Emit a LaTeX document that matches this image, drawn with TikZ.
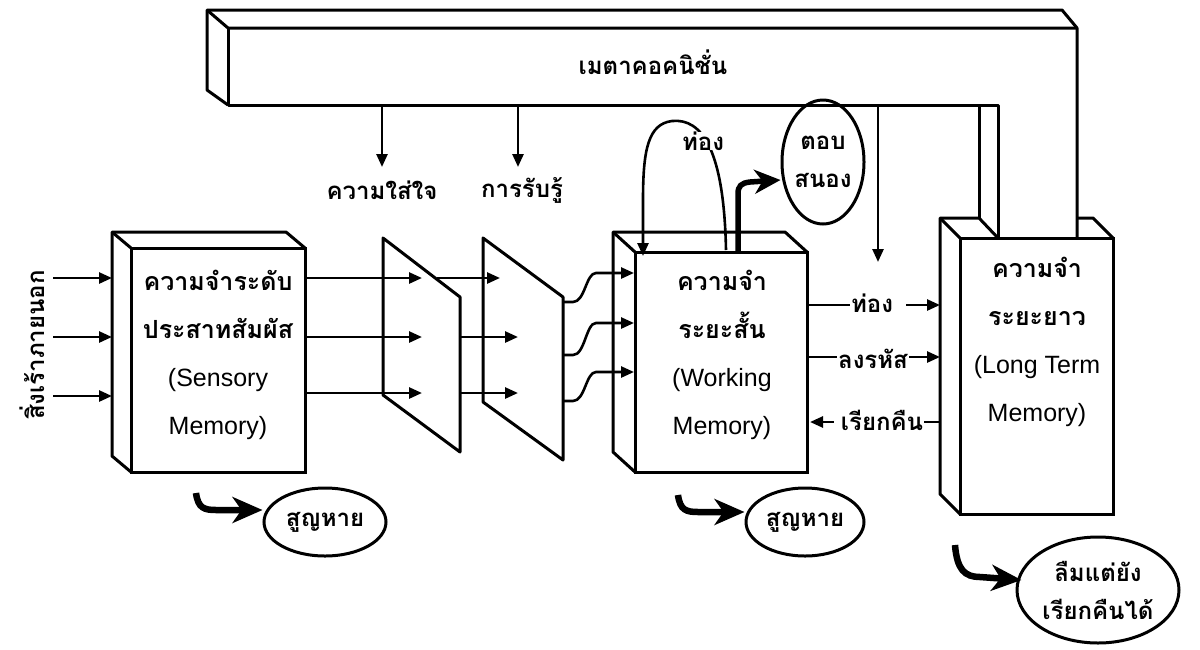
\documentclass[tikz,border=0pt]{standalone}
\usepackage{fontspec}
\setmainfont{Liberation Sans}
\newfontfamily\thai[Script=Thai]{Loma}
\usetikzlibrary{arrows.meta,calc,shapes.geometric}
\begin{document}
\begin{tikzpicture}[x=1pt,y=-1pt,
  wall/.style={line width=3pt, line join=round},
  arr/.style={line width=2.6pt,-{Triangle[length=13pt,width=11pt]}},
  plain/.style={line width=2.6pt},
  bigarr/.style={line width=6.5pt,-{Stealth[length=30pt,width=26pt,inset=9pt]}},
  face/.style={draw, line width=3pt, outer sep=0pt, inner sep=0pt},
  thaitx/.style={font=\thai\bfseries\fontsize{24}{26}\selectfont, inner sep=1pt},
  memtx/.style={align=center, font=\fontsize{25}{48}\selectfont, inner sep=0pt},
  oval/.style={draw, ellipse, line width=3pt, inner sep=0pt, align=center,
               font=\thai\bfseries\fontsize{24}{38}\selectfont},
]
\useasboundingbox (0,0) rectangle (1200,649);

% ---------- metacognition bar ----------
\coordinate (mbA) at (207,10);  \coordinate (mbB) at (1062,10);
\coordinate (mbC) at (1077,28); \coordinate (mbD) at (228,28);
\coordinate (mbE) at (207,90);  \coordinate (mbF) at (228,105);
\coordinate (mbG) at (998,105); \coordinate (mbH) at (979,105);
\coordinate (mbI) at (1077,238);\coordinate (mbJ) at (979,218);
\coordinate (mbK) at (998,238);
\draw[wall] (mbF) -- (mbE) -- (mbA) -- (mbB) -- (mbC) -- (mbI);
\draw[wall] (mbA) -- (mbD) -- (mbC);
\draw[wall] (mbD) -- (mbF) -- (mbG) -- (mbK);
\draw[wall] (mbH) -- (mbJ);
\node[thaitx] (meta) at (653,62) {เมตาคอคนิชั่น};

% ---------- sensory memory ----------
\node[face, minimum width=174pt, minimum height=224pt] (sm) at (218,360) {};
\draw[wall] (sm.south west) -- ++(-19,-16) -- ($(sm.north west)+(-19,-16)$)
            -- ($(sm.north east)+(-19,-16)$) -- (sm.north east);
\draw[wall] (sm.north west) -- ++(-19,-16);
\node[memtx] (smt) at (218,355) {{\thai\bfseries ความจำระดับ}\\{\thai\bfseries ประสาทสัมผัส}\\(Sensory\\Memory)};

% ---------- working memory ----------
\node[face, minimum width=172pt, minimum height=220pt] (wm) at (721,362) {};
\draw[wall] (wm.south west) -- ++(-22,-20) -- ($(wm.north west)+(-22,-20)$)
            -- ($(wm.north east)+(-22,-20)$) -- (wm.north east);
\draw[wall] (wm.north west) -- ++(-22,-20);
\node[memtx] (wmt) at (722,355) {{\thai\bfseries ความจำ}\\{\thai\bfseries ระยะสั้น}\\(Working\\Memory)};

% ---------- long term memory ----------
\node[face, minimum width=153pt, minimum height=276pt] (ltm) at (1036.5,376) {};
\coordinate (ltmBR) at ($(ltm.north east)+(-20,-20)$);
\draw[wall] (ltm.south west) -- ++(-20,-20) -- ($(ltm.north west)+(-20,-20)$) -- (mbJ) -- (mbK);
\draw[wall] (ltm.north west) -- ++(-20,-20);
\draw[wall] (mbI |- ltmBR) -- (ltmBR) -- (ltm.north east);
\node[memtx] (ltmt) at (1037,342) {{\thai\bfseries ความจำ}\\{\thai\bfseries ระยะยาว}\\(Long Term\\Memory)};

% ---------- filters ----------
\coordinate (f1a) at (383,238); \coordinate (f1b) at (460,297);
\coordinate (f1c) at (460,452); \coordinate (f1d) at (383,395);
\draw[wall] (f1a) -- (f1b) -- (f1c) -- (f1d) -- cycle;
\coordinate (f2a) at (483,238); \coordinate (f2b) at (563,297);
\coordinate (f2c) at (563,460); \coordinate (f2d) at (483,402);
\draw[wall] (f2a) -- (f2b) -- (f2c) -- (f2d) -- cycle;

% ---------- external stimuli ----------
\node[thaitx, rotate=90] (stim) at (32,345) {สิ่งเร้าภายนอก};
\foreach \y [count=\i] in {278,337,396} {
  \coordinate (in\i) at (53,\y); \coordinate (sb\i) at (112,\y);
  \draw[arr] (in\i) -- (sb\i);
}
% sensory -> filter 1
\foreach \y [count=\i] in {278,337,393} {
  \coordinate (so\i) at (305,\y); \coordinate (fa\i) at (422,\y);
  \draw[arr] (so\i) -- (fa\i);
}
% filter 1 -> filter 2
\coordinate (fo1) at (437,278); \coordinate (fb1) at (500,278);
\coordinate (fo2) at (460,337); \coordinate (fb2) at (518,337);
\coordinate (fo3) at (460,393); \coordinate (fb3) at (518,393);
\foreach \i in {1,2,3} { \draw[arr] (fo\i) -- (fb\i); }
% filter 2 -> working memory
\coordinate (go1) at (563,302); \coordinate (gw1) at (634,273);
\coordinate (go2) at (563,355); \coordinate (gw2) at (634,323);
\coordinate (go3) at (563,401); \coordinate (gw3) at (634,372);
\foreach \i in {1,2,3} {
  \draw[arr] (go\i) -- ++(10,0) .. controls +(12,0) and +(-10,0) .. ($(gw\i)+(-38,0)$) -- (gw\i);
}

% ---------- attention / perception ----------
\coordinate (at0) at (382,105); \coordinate (at1) at (382,167);
\coordinate (pe0) at (518,105); \coordinate (pe1) at (518,167);
\draw[arr] (at0) -- (at1);
\draw[arr] (pe0) -- (pe1);
\node[thaitx] (attn) at (382,190) {ความใส่ใจ};
\node[thaitx] (perc) at (522,190) {การรับรู้};

% meta -> between WM and LTM
\coordinate (mc0) at (878,105); \coordinate (mc1) at (878,262);
\draw[arr] (mc0) -- (mc1);

% ---------- rehearsal loop ----------
\coordinate (lp0) at (726,250); \coordinate (lp1) at (643,256);
\draw[arr] (lp0) .. controls (724,150) and (702,118) .. (672,121)
           .. controls (648,124) and (643,150) .. (643,200) -- (lp1);
\node[thaitx, fill=white, inner sep=0pt] (reh) at (703,141) {ท่อง};

% ---------- response ----------
\node[oval, minimum width=82pt, minimum height=124pt] (resp) at (823,162) {ตอบ\\สนอง};
\coordinate (rs0) at (738,252);
\draw[line width=5.5pt,-{Stealth[length=26pt,width=24pt,inset=8pt]}]
  (rs0) -- (738,194) .. controls (738,186) and (741,183) .. (750,182) -- (resp.west |- 0,180);

% ---------- WM <-> LTM ----------
\node[thaitx] (t1) at (872,303) {ท่อง};
\node[thaitx] (t2) at (873,359) {ลงรหัส};
\node[thaitx] (t3) at (882,420) {เรียกคืน};
\coordinate (wa1) at (807,305); \coordinate (la1) at (940,305);
\coordinate (wa2) at (807,357); \coordinate (la2) at (940,357);
\coordinate (wa3) at (810,422); \coordinate (la3) at (940,422);
\draw[plain] (wa1) -- (t1.west |- wa1);
\draw[arr] (t1.east |- la1) ++(12,0) -- (la1);
\draw[plain] (wa2) -- (t2.west |- wa2);
\draw[arr] (t2.east |- la2) -- (la2);
\draw[plain] (la3) -- (t3.east |- la3);
\draw[arr] (t3.west |- wa3) ++(-6,0) -- (wa3);

% ---------- forgetting ----------
\node[oval, minimum width=122pt, minimum height=68pt] (lost1) at (325,522) {สูญหาย};
\coordinate (h1) at (196,493);
\draw[bigarr] (h1) .. controls (198,508) and (204,510) .. (216,510) -- (lost1.west |- 0,510);

\node[oval, minimum width=118pt, minimum height=68pt] (lost2) at (805,522) {สูญหาย};
\coordinate (h2) at (678,495);
\draw[bigarr] (h2) .. controls (680,510) and (686,512) .. (698,512) -- (lost2.west |- 0,512);

\node[oval, minimum width=162pt, minimum height=106pt] (lost3) at (1098,590) {ลืมแต่ยัง\\เรียกคืนได้};
\coordinate (h3) at (955,545);
\draw[bigarr] (h3) .. controls (957,570) and (965,577) .. (980,577) -- ($(lost3.west)+(6,-10)$);
\end{tikzpicture}
\end{document}
